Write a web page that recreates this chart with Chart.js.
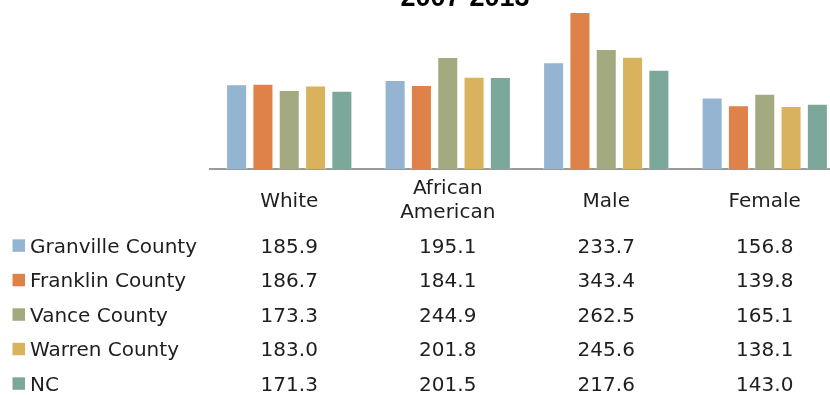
<!DOCTYPE html>
<html>
<head>
<meta charset="utf-8">
<script src="https://cdn.jsdelivr.net/npm/chart.js@4.4.1/dist/chart.umd.min.js"></script>
<style>
  html, body { margin: 0; padding: 0; background: #fff; overflow: hidden; }
  #wrap { position: relative; width: 830px; height: 395px; overflow: hidden; }
  #chart { position: absolute; left: 0; top: -30px; }
</style>
</head>
<body>
<div id="wrap"><canvas id="chart" width="846" height="425"></canvas></div>
<script>
const categories = ["White", ["African", "American"], "Male", "Female"];
const seriesNames = ["Granville County", "Franklin County", "Vance County", "Warren County", "NC"];
const seriesColors = ["#94b4d2", "#de8249", "#a4aa7f", "#d9b25d", "#7ca89c"];

const granville = [185.9, 195.1, 233.7, 156.8];
const franklin  = [186.7, 184.1, 343.4, 139.8];
const vance     = [173.3, 244.9, 262.5, 165.1];
const warren    = [183.0, 201.8, 245.6, 138.1];
const nc        = [171.3, 201.5, 217.6, 143.0];

const titleText = "2007-2013";
const allSeries = [granville, franklin, vance, warren, nc];

const TEXT = "#1e1e1e";
const FONT = '20px "DejaVu Sans"';
const OFF = 30; // canvas sits 30px above the page top

// data table + legend keys under the plot, plus the title above it
const tablePlugin = {
  id: "dataTable",
  afterDraw(chart) {
    const ctx = chart.ctx;
    const x = chart.scales.x;
    ctx.save();
    ctx.fillStyle = "#000";
    ctx.font = 'bold 27px "Liberation Sans"';
    ctx.textAlign = "center";
    ctx.textBaseline = "alphabetic";
    ctx.fillText(titleText, 465, OFF + 6);

    ctx.fillStyle = TEXT;
    ctx.font = FONT;
    // category headers
    categories.forEach((c, i) => {
      const cx = x.getPixelForValue(i);
      if (Array.isArray(c)) {
        ctx.fillText(c[0], cx, OFF + 194);
        ctx.fillText(c[1], cx, OFF + 218);
      } else {
        ctx.fillText(c, cx, OFF + 207);
      }
    });
    // rows
    allSeries.forEach((vals, r) => {
      const mid = OFF + 245.5 + r * 34.5;
      ctx.fillStyle = seriesColors[r];
      ctx.fillRect(12.5, mid - 6.2, 12.5, 12.5);
      ctx.fillStyle = TEXT;
      ctx.textAlign = "left";
      ctx.fillText(seriesNames[r], 30, mid + 7.3);
      ctx.textAlign = "center";
      vals.forEach((v, i) => {
        ctx.fillText(v.toFixed(1), x.getPixelForValue(i), mid + 7.3);
      });
    });
    ctx.restore();
  }
};

new Chart(document.getElementById("chart"), {
  type: "bar",
  data: {
    labels: categories,
    datasets: seriesNames.map((name, i) => ({
      label: name,
      data: allSeries[i],
      backgroundColor: seriesColors[i],
      borderColor: "rgba(255,255,255,0.45)",
      borderWidth: 1,
      barPercentage: 0.8,
      categoryPercentage: 0.83
    }))
  },
  options: {
    responsive: false,
    animation: false,
    layout: { padding: { left: 210, right: 2, top: 34.4, bottom: 225.7 } },
    plugins: { legend: { display: false }, tooltip: { enabled: false } },
    scales: {
      x: {
        grid: { display: false, drawTicks: false },
        ticks: { display: false, padding: 0 },
        border: { display: true, color: "#9a9a9a", width: 2 }
      },
      y: {
        display: false,
        min: 0,
        max: 360
      }
    }
  },
  plugins: [tablePlugin]
});
</script>
</body>
</html>
